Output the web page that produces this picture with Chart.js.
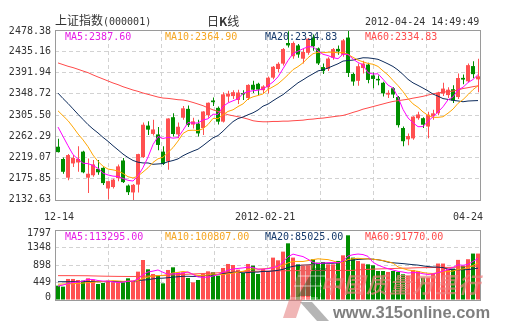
<!DOCTYPE html>
<html>
<head>
<meta charset="utf-8">
<title>上证指数 日K线</title>
<script src="https://cdn.jsdelivr.net/npm/chart.js@4.4.1/dist/chart.umd.min.js"></script>
<style>
  html, body { margin: 0; padding: 0; background: #fff; }
  #board { position: relative; width: 505px; height: 330px; overflow: hidden; background: #fff; }
  #board canvas { position: absolute; left: 0; }
  .txt { position: absolute; white-space: nowrap; font-family: "DejaVu Sans Mono", monospace;
         font-size: 10px; line-height: 12px; color: #333; }
  .cjk { font-family: "Noto Sans CJK SC", sans-serif; font-size: 12px; line-height: 12px; }
  .wm-cn { position: absolute; left: 320px; top: 270px; white-space: nowrap;
           font-family: "Noto Sans CJK SC", sans-serif; font-size: 22px; line-height: 26px;
           font-weight: bold; font-style: italic; letter-spacing: 1px; color: rgba(240, 125, 125, 0.7); }
  .wm-url { position: absolute; left: 333px; top: 303px; white-space: nowrap;
            font-family: "Liberation Sans", Arial, sans-serif; font-weight: bold; font-size: 16.5px;
            line-height: 18px; color: rgba(105, 105, 105, 0.85); }
  #logo { position: absolute; left: 0; top: 0; }
</style>
</head>
<body>
<div id="board">
  <canvas id="kline" width="505" height="215" style="top:0px"></canvas>
  <canvas id="volume" width="505" height="116" style="top:214px"></canvas>

  <div class="txt" style="left:55px;top:14px"><span class="cjk">上证指数</span>(000001)</div>
  <div class="txt cjk" style="left:207px;top:15px">日<b>K</b>线</div>
  <div class="txt" style="left:365px;top:16px">2012-04-24 14:49:49</div>

  <div class="txt" style="left:65px;top:31px;color:#e61ee6">MA5:2387.60</div>
  <div class="txt" style="left:165px;top:31px;color:#f5a623">MA10:2364.90</div>
  <div class="txt" style="left:265px;top:31px;color:#163a6b">MA20:2334.83</div>
  <div class="txt" style="left:365px;top:31px;color:#ff4d4d">MA60:2334.83</div>

  <div class="txt" id="d0" style="left:44px;top:211px"></div>
  <div class="txt" id="d1" style="left:235px;top:211px"></div>
  <div class="txt" id="d2" style="left:453px;top:211px"></div>

  <div class="txt" style="left:65px;top:231px;color:#e61ee6">MA5:113295.00</div>
  <div class="txt" style="left:165px;top:231px;color:#f5a623">MA10:100807.00</div>
  <div class="txt" style="left:265px;top:231px;color:#163a6b">MA20:85025.00</div>
  <div class="txt" style="left:365px;top:231px;color:#ff4d4d">MA60:91770.00</div>

  <svg id="logo" width="505" height="330">
    <polygon points="283,318 296,318 314,264 301,264" fill="rgba(225,110,110,0.5)"/>
    <polygon points="298,296 311,296 327,268 314,268" fill="rgba(20,90,30,0.45)"/>
    <g stroke="rgba(255,255,255,0.6)" stroke-width="1">
      <line x1="290" y1="298" x2="318" y2="298"/>
      <line x1="294" y1="286" x2="322" y2="286"/>
      <line x1="298" y1="276" x2="326" y2="276"/>
    </g>
    <polygon points="300,302 312,302 329,321 317,321" fill="rgba(120,120,120,0.55)"/>
  </svg>
  <div class="wm-cn">中国质量万里行</div>
  <div class="wm-url">www.315online.com</div>
</div>

<script>
// Sessions of the Shanghai Composite daily chart, 2011-12-14 .. 2012-04-24
const tradeDays = [
  '12-14','12-15','12-16','12-19','12-20','12-21','12-22','12-23','12-26','12-27','12-28','12-29','12-30',
  '01-04','01-05','01-06','01-09','01-10','01-11','01-12','01-13','01-16','01-17','01-18','01-19','01-20','01-30','01-31',
  '02-01','02-02','02-03','02-06','02-07','02-08','02-09','02-10','02-13','02-14','02-15','02-16','02-17','02-20','02-21',
  '02-22','02-23','02-24','02-27','02-28','02-29',
  '03-01','03-02','03-05','03-06','03-07','03-08','03-09','03-12','03-13','03-14','03-15','03-16','03-19','03-20','03-21',
  '03-22','03-23','03-26','03-27','03-28','03-29','03-30',
  '04-05','04-06','04-09','04-10','04-11','04-12','04-13','04-16','04-17','04-18','04-19','04-20','04-23','04-24'
];

const openPx = [
  2241,2216,2178,2207,2209,2231,2178,2183,2196,2198,
  2156,2159,2177,2213,2162,2148,2164,2220,2284,2267,
  2266,2231,2211,2301,2266,2300,2318,2286,2288,2279,
  2305,2335,2320,2292,2343,2344,2336,2350,2340,2367,
  2369,2356,2362,2381.5,2399,2410,2452,2425,2447,2420,
  2432,2463,2441,2403,2399,2422,2440,2428,2463,2389,
  2375,2401,2408,2386,2379,2371,2347,2360,2342,2279,
  2256,2258,2299,2299,2282,2303,2309,2349,2346,2358,
  2342,2381,2374,2405,2378
];
const highPx = [
  2257,2219,2226,2224,2242,2233,2217,2214,2214,2199,
  2171,2176,2205,2218,2164,2165,2226.5,2290,2293,2296,
  2281,2242,2299,2309,2290,2324,2325,2300,2296,2313,
  2331,2341,2323,2352,2355,2356,2357,2356,2368,2375,
  2371,2366,2384,2405,2413,2442,2476,2455,2450,2440,
  2462,2469,2443,2410,2423,2442,2447,2460,2478.38,2392,
  2410,2416,2412,2392,2386,2373,2356,2362,2344,2282,
  2268,2303,2312,2301,2312,2316,2353,2371,2362,2366,
  2390,2388,2410,2415,2420
];
const lowPx = [
  2229,2186,2173,2200,2190,2187,2147,2180,2184,2163,
  2134,2156,2171,2167,2143,2132.63,2148,2218,2265,2264,
  2234,2204,2194,2262,2258,2296,2281,2278,2262,2265,
  2300,2324,2286,2290,2332,2338,2328,2336,2336,2350,
  2346,2350,2349,2378,2392,2406,2443,2420,2422,2410,
  2428,2436,2407,2389,2395,2418,2428,2424,2383,2365,
  2365,2390,2370,2360,2366,2343,2340,2340,2280,2242,
  2244,2255,2296,2279,2258,2296,2305,2344,2340,2330,
  2338,2368,2372,2380,2352
];
const closePx = [
  2230,2190,2224,2218,2216,2189,2186,2205,2189,2167,
  2171,2174,2201,2169,2148.5,2163.5,2226,2285.7,2275.7,2276.1,
  2244.6,2206.2,2298.4,2266.9,2281.6,2319.1,2285,2292.6,2268.1,2312.6,
  2330.4,2331.6,2292,2347.5,2349,2351.9,2351.2,2347.3,2366.7,2357,
  2357.2,2363.6,2381.4,2403.6,2409.6,2439.6,2447.1,2451.9,2428.5,2433.6,
  2460.7,2445.3,2410.4,2394.8,2420.3,2439.6,2434.9,2457.3,2391,2373.6,
  2404.7,2410.2,2376.8,2378.9,2376,2349.5,2350.6,2347.2,2284.9,2252.2,
  2262.8,2302.2,2306.6,2285.8,2306,2308.9,2350.9,2359.2,2357,2335,
  2380.8,2377.5,2406.9,2388.6,2384.2
];
const volume = [
  368,343,540,540,514,497,557,523,411,437,
  497,454,454,454,557,497,728,1027,788,668,
  642,428,771,839,711,711,565,454,514,668,
  736,711,625,822,925,899,779,694,925,882,
  668,796,745,1088,1019,1242,1455,1088,916,874,
  891,1045,959,976,916,916,1002,1147,1661,1088,
  1002,934,916,891,745,745,720,745,720,660,
  617,771,745,574,574,680,936,936,808,808,
  1030,876,1047,1192,1192
];

// Moving-average values for the first sessions, whose windows reach back before 12-14
const ma5Head  = [2281, 2262, 2243, 2225];
const ma10Head = [2314, 2304, 2294, 2281, 2267, 2255, 2241, 2224, 2211];
const ma20Head = [2350, 2339, 2329, 2318, 2307, 2296.5, 2286, 2277, 2269, 2260,
                  2252, 2243, 2234.6, 2226, 2219, 2213, 2209.5, 2208, 2208];
const ma60Head = [2411.4, 2408, 2404.6, 2401.9, 2398.5, 2395, 2391.7, 2387, 2382.8, 2378.8,
                  2374.7, 2370.6, 2367.2, 2363, 2359.7, 2356.3, 2353.6, 2350.2, 2347.5, 2344.8,
                  2342, 2340, 2339.3, 2338, 2336.6, 2336, 2333.9, 2331, 2327.8, 2324.4,
                  2320, 2316, 2312.8, 2309.4, 2306, 2304, 2302, 2299.9, 2297.2, 2293.8,
                  2292.4, 2291.7, 2291.7, 2292.4, 2292.4, 2293, 2293, 2293.8, 2294.4, 2295,
                  2296.5, 2297.2, 2298.5, 2299.2, 2300.6, 2302, 2303.3, 2304.6, 2307.4];
const volMa5Head  = [355, 385, 420, 450];
const volMa10Head = [405, 410, 412, 418, 425, 435, 445, 455, 465];
const volMa20Head = [470, 470, 470, 471, 471, 471, 472, 472, 472, 472,
                     473, 473, 473, 474, 474, 475, 500, 512, 522];
const volMa60Head = [625, 625, 625, 624, 624, 623, 622, 618, 615, 612,
                     610, 608, 606, 605, 604, 604, 605, 610, 615, 620,
                     626, 632, 638, 644, 650, 656, 662, 668, 674, 680,
                     686, 692, 698, 704, 710, 716, 722, 728, 733, 737,
                     740, 742, 744, 746, 748, 750, 752, 753, 754, 755,
                     756, 757, 757, 758, 758, 759, 759, 760, 760];

const priceTickLabels = ['2478.38','2435.16','2391.94','2348.72','2305.50','2262.29','2219.07','2175.85','2132.63'];
const volTickLabels = ['1797','1348','898','449','0'];
const dateTickLabels = ['12-14', '2012-02-21', '04-24'];

// ---- drawing ----
const UP = '#ff5050', DOWN = '#008e00';
const MA_COLORS = { 5: '#ff00ff', 10: '#ffa500', 20: '#0d2b5b', 60: '#ff4a4a' };
const n = closePx.length;
const candleColor = closePx.map((c, i) => c >= openPx[i] ? UP : DOWN);

dateTickLabels.forEach((t, k) => { document.getElementById('d' + k).textContent = t; });

function movingAverage(src, len, head) {
  return src.map((_, i) => {
    if (i < len - 1) return head[i];
    let s = 0;
    for (let k = i - len + 1; k <= i; k++) s += src[k];
    return s / len;
  });
}
const asPoints = arr => arr.map((y, i) => ({ x: i, y }));

function maLine(values, len) {
  return {
    type: 'line', data: asPoints(values), borderColor: MA_COLORS[len], borderWidth: 1,
    pointRadius: 0, tension: 0, fill: false, order: 0
  };
}

// left-hand value labels, kept inside the frame at the top and bottom edges
function sideLabels(values, labels, inset) {
  return {
    id: 'sideLabels',
    afterDraw(chart) {
      const { ctx, chartArea: a, scales: { y } } = chart;
      ctx.save();
      ctx.font = '10px "DejaVu Sans Mono"';
      ctx.fillStyle = '#333';
      ctx.textAlign = 'right';
      ctx.textBaseline = 'middle';
      values.forEach((v, k) => {
        const py = Math.min(Math.max(y.getPixelForValue(v), a.top + inset), a.bottom - inset);
        ctx.fillText(labels[k], a.left - 4, py);
      });
      ctx.restore();
    }
  };
}
const frame = {
  id: 'frame',
  afterDraw(chart) {
    const { ctx, chartArea: a } = chart;
    ctx.save();
    ctx.strokeStyle = '#9a9a9a';
    ctx.lineWidth = 1;
    ctx.strokeRect(a.left + 0.5, a.top + 0.5, a.right - a.left, a.bottom - a.top);
    ctx.restore();
  }
};

const X_MIN = -0.6, X_MAX = n - 0.6;
function xAxis() {
  return {
    type: 'linear', min: X_MIN, max: X_MAX, offset: false,
    ticks: { display: false },
    grid: { color: '#d2d2d2', drawTicks: false, offset: false },
    border: { display: false, dash: [4, 3] },
    afterBuildTicks: s => { s.ticks = [1, 2, 3, 4, 5, 6, 7].map(k => ({ value: X_MIN + k * n / 8 })); },
    afterFit: s => { s.height = 0; }
  };
}
function yAxis(min, max, tickValues) {
  return {
    type: 'linear', min, max,
    ticks: { display: false },
    grid: { color: '#d2d2d2', drawTicks: false },
    border: { display: false, dash: [4, 3] },
    afterBuildTicks: s => { s.ticks = tickValues.slice().sort((a, b) => a - b).map(v => ({ value: v })); },
    afterFit: s => { s.width = 55; }
  };
}
const common = {
  responsive: false, animation: false, devicePixelRatio: 1, events: [],
  plugins: { legend: { display: false }, tooltip: { enabled: false } }
};

// price panel
const priceTicks = priceTickLabels.map(Number);
new Chart(document.getElementById('kline'), {
  data: {
    datasets: [
      maLine(movingAverage(closePx, 5, ma5Head), 5),
      maLine(movingAverage(closePx, 10, ma10Head), 10),
      maLine(movingAverage(closePx, 20, ma20Head), 20),
      maLine(movingAverage(closePx, 60, ma60Head), 60),
      {
        type: 'bar', data: openPx.map((o, i) => ({ x: i, y: [o, closePx[i]] })),
        backgroundColor: candleColor, barThickness: 4, minBarLength: 1, grouped: false,
        inflateAmount: 0, borderWidth: 0, order: 1
      },
      {
        type: 'bar', xAxisID: 'xw', data: lowPx.map((l, i) => ({ x: i, y: [l, highPx[i]] })),
        backgroundColor: candleColor, barThickness: 1, grouped: false,
        inflateAmount: 0, borderWidth: 0, order: 2
      }
    ]
  },
  options: {
    ...common,
    layout: { padding: { top: 30, right: 25, bottom: 15, left: 0 } },
    scales: {
      x: xAxis(),
      xw: { type: 'linear', display: false, offset: false, min: X_MIN - 0.1, max: X_MAX - 0.1 },
      y: yAxis(2132.63, 2478.38, priceTicks)
    }
  },
  plugins: [frame, sideLabels(priceTicks, priceTickLabels, 1)]
});

// volume panel
const volTicks = volTickLabels.map(Number);
new Chart(document.getElementById('volume'), {
  data: {
    datasets: [
      maLine(movingAverage(volume, 5, volMa5Head), 5),
      maLine(movingAverage(volume, 10, volMa10Head), 10),
      maLine(movingAverage(volume, 20, volMa20Head), 20),
      maLine(movingAverage(volume, 60, volMa60Head), 60),
      {
        type: 'bar', data: asPoints(volume), backgroundColor: candleColor,
        barThickness: 4, grouped: false, inflateAmount: 0, borderWidth: 0, order: 1
      }
    ]
  },
  options: {
    ...common,
    layout: { padding: { top: 16, right: 25, bottom: 30, left: 0 } },
    scales: { x: xAxis(), y: yAxis(0, 1797, volTicks) }
  },
  plugins: [frame, sideLabels(volTicks, volTickLabels, 3)]
});
</script>
</body>
</html>
